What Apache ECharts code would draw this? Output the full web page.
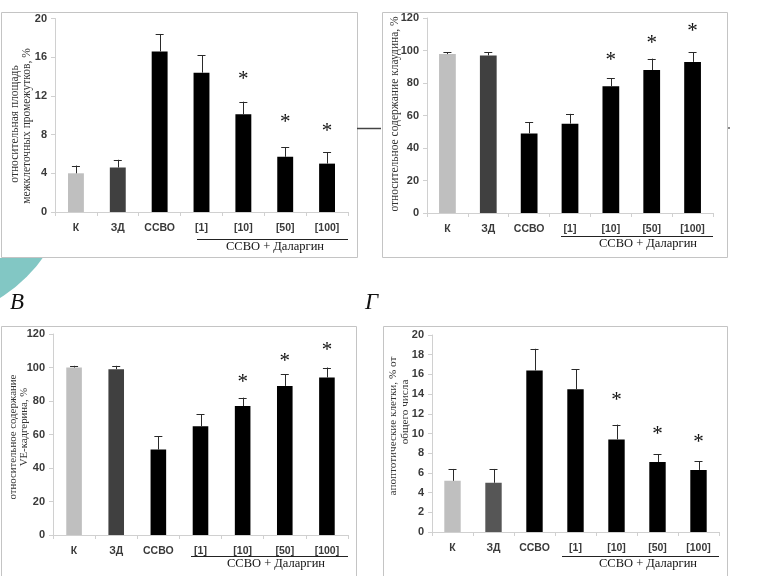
<!DOCTYPE html>
<html><head><meta charset="utf-8">
<script src="https://cdn.jsdelivr.net/npm/echarts@6/dist/echarts.min.js"></script>
<style>html,body{margin:0;padding:0;background:#fff}#c{width:768px;height:576px}</style>
</head><body><div id="c"></div>
<script>
// ---- data ----
const categories = ['К', 'ЗД', 'ССВО', '[1]', '[10]', '[50]', '[100]'];
const groupLabel = 'ССВО + Даларгин';

// panel А: relative area of intercellular gaps, %
const valuesA = [4.0, 4.6, 16.6, 14.4, 10.1, 5.7, 5.0];
const errTopA = [4.8, 5.4, 18.4, 16.2, 11.4, 6.7, 6.2];
const starsA = [null, null, null, null, 14.2, 9.8, 8.8];
const titleA = ['относительная площадь', 'межклеточных промежутков, %'];

// panel Б: relative claudin content, %
const valuesB = [97.8, 97, 49, 55, 78, 88, 93];
const errTopB = [99, 99, 56, 61, 83, 95, 99];
const starsB = [null, null, null, null, 97.2, 107.1, 114.5];
const titleB = ['относительное содержание клаудина, %'];

// panel В: relative VE-cadherin content, %
const valuesC = [100, 99, 51, 65, 77, 89, 94];
const errTopC = [101, 101, 59, 72, 82, 96, 100];
const starsC = [null, null, null, null, 94.3, 106.3, 113.4];
const titleC = ['относительное содержание', 'VE-кадгерина, %'];

// panel Г: apoptotic cells, % of total
const valuesD = [5.2, 5.0, 16.4, 14.5, 9.4, 7.1, 6.3];
const errTopD = [6.4, 6.4, 18.6, 16.5, 10.9, 7.9, 7.2];
const starsD = [null, null, null, null, 13.9, 10.36, 9.64];
const titleD = ['апоптотические клетки, % от', 'общего числа'];

// ---- chart ----
const chart = echarts.init(document.getElementById('c'), null, {renderer: 'canvas'});

const panels = [
  {vals: valuesA, err: errTopA, stars: starsA, max: 20, interval: 4, grid: {left: 55, top: 18.5, width: 293, height: 193.5}, zd: '#404040', bw: '38%'},
  {vals: valuesB, err: errTopB, stars: starsB, max: 120, interval: 20, grid: {left: 427, top: 18, width: 286, height: 195}, zd: '#404040', bw: '41%'},
  {vals: valuesC, err: errTopC, stars: starsC, max: 120, interval: 20, grid: {left: 53, top: 334, width: 295, height: 201}, zd: '#404040', bw: '37%'},
  {vals: valuesD, err: errTopD, stars: starsD, max: 20, interval: 2, grid: {left: 432, top: 335, width: 287, height: 197}, zd: '#565656', bw: '40%'}
];

const tickFont = {fontFamily: 'Liberation Sans', fontWeight: 'bold', fontSize: 11, color: '#3a3a3a'};

const grids = [], xAxes = [], yAxes = [], series = [];
panels.forEach((p, k) => {
  grids.push(Object.assign({containLabel: false}, p.grid));
  xAxes.push({
    type: 'category', gridIndex: k, data: categories,
    axisLine: {lineStyle: {color: '#d0d0d0'}},
    axisTick: {show: true, alignWithLabel: false, interval: 0, length: 4, lineStyle: {color: '#d0d0d0'}},
    axisLabel: Object.assign({margin: 11, interval: 0}, tickFont, {fontSize: 10.5})
  });
  yAxes.push({
    type: 'value', gridIndex: k, min: 0, max: p.max, interval: p.interval,
    axisLine: {show: true, lineStyle: {color: '#d0d0d0'}},
    axisTick: {show: true, length: 4, lineStyle: {color: '#d0d0d0'}},
    splitLine: {show: false},
    axisLabel: Object.assign({margin: 8}, tickFont)
  });
  series.push({
    type: 'bar', xAxisIndex: k, yAxisIndex: k, barWidth: p.bw, z: 2,
    data: p.vals.map((v, i) => ({value: v, itemStyle: {color: i === 0 ? '#bfbfbf' : (i === 1 ? p.zd : '#000000')}})),
    animation: false
  });
  series.push({
    type: 'custom', xAxisIndex: k, yAxisIndex: k, z: 3, animation: false,
    data: p.vals.map((v, i) => [i, v, p.err[i]]),
    encode: {x: 0, y: [1, 2]},
    renderItem: function (params, api) {
      const i = api.value(0);
      const a = api.coord([i, api.value(1)]);
      const b = api.coord([i, api.value(2)]);
      const st = {stroke: '#2a2a2a', lineWidth: 1};
      return {type: 'group', children: [
        {type: 'line', shape: {x1: Math.round(a[0]) + 0.5, y1: a[1], x2: Math.round(b[0]) + 0.5, y2: b[1]}, style: st},
        {type: 'line', shape: {x1: b[0] - 4, y1: Math.round(b[1]) + 0.5, x2: b[0] + 4, y2: Math.round(b[1]) + 0.5}, style: st}
      ]};
    }
  });
  series.push({
    type: 'custom', xAxisIndex: k, yAxisIndex: k, z: 3, animation: false,
    data: p.stars.map((s, i) => [i, s]).filter(d => d[1] !== null),
    encode: {x: 0, y: 1},
    renderItem: function (params, api) {
      const c = api.coord([api.value(0), api.value(1)]);
      return {type: 'text', x: c[0], y: c[1] + 5, style: {text: '*', fontFamily: 'Liberation Serif', fontSize: 21, fill: '#111', align: 'center', verticalAlign: 'middle'}};
    }
  });
});

// decorations and titles
const serif = 'Liberation Serif';
function vtext(lines, xs, cy, size) {
  return lines.map((t, j) => ({
    type: 'text', x: xs[j], y: cy[j], rotation: Math.PI / 2, z: 10,
    style: {text: t, fontFamily: serif, fontSize: size, fill: '#333', align: 'center', verticalAlign: 'middle'}
  }));
}
const graphic = [
  {type: 'circle', shape: {cx: -80, cy: 170, r: 151}, style: {fill: '#82c7c4'}, z: -20},
  {type: 'rect', shape: {x: 0, y: 0, width: 4, height: 258}, style: {fill: '#fff'}, z: -15},
  {type: 'rect', shape: {x: 1.5, y: 12.5, width: 356, height: 245}, style: {fill: '#fff', stroke: '#c4c4c4', lineWidth: 1}, z: -10},
  {type: 'rect', shape: {x: 382.5, y: 12.5, width: 345, height: 245}, style: {fill: '#fff', stroke: '#c4c4c4', lineWidth: 1}, z: -10},
  {type: 'rect', shape: {x: 1.5, y: 326.5, width: 355, height: 260}, style: {fill: '#fff', stroke: '#c4c4c4', lineWidth: 1}, z: -10},
  {type: 'rect', shape: {x: 383.5, y: 326.5, width: 344, height: 260}, style: {fill: '#fff', stroke: '#c4c4c4', lineWidth: 1}, z: -10},
  {type: 'line', shape: {x1: 357, y1: 128.5, x2: 381, y2: 128.5}, style: {stroke: '#444', lineWidth: 1.5}, z: -5},
  {type: 'rect', shape: {x: 728, y: 127, width: 2, height: 2}, style: {fill: '#888'}, z: -5},
  {type: 'text', x: 10, y: 303, style: {text: 'В', fontFamily: serif, fontStyle: 'italic', fontSize: 23, fill: '#111', verticalAlign: 'middle'}},
  {type: 'text', x: 365, y: 303, style: {text: 'Г', fontFamily: serif, fontStyle: 'italic', fontSize: 23, fill: '#111', verticalAlign: 'middle'}},
  // group brackets
  {type: 'line', shape: {x1: 197, y1: 239.5, x2: 348, y2: 239.5}, style: {stroke: '#222', lineWidth: 1}},
  {type: 'text', x: 275, y: 247, style: {text: groupLabel, fontFamily: serif, fontSize: 12.5, fill: '#111', align: 'center', verticalAlign: 'middle'}},
  {type: 'line', shape: {x1: 561, y1: 236.5, x2: 713, y2: 236.5}, style: {stroke: '#222', lineWidth: 1}},
  {type: 'text', x: 648, y: 244, style: {text: groupLabel, fontFamily: serif, fontSize: 12.5, fill: '#111', align: 'center', verticalAlign: 'middle'}},
  {type: 'line', shape: {x1: 191, y1: 556.5, x2: 348, y2: 556.5}, style: {stroke: '#222', lineWidth: 1}},
  {type: 'text', x: 276, y: 564, style: {text: groupLabel, fontFamily: serif, fontSize: 12.5, fill: '#111', align: 'center', verticalAlign: 'middle'}},
  {type: 'line', shape: {x1: 562, y1: 556.5, x2: 719, y2: 556.5}, style: {stroke: '#222', lineWidth: 1}},
  {type: 'text', x: 648, y: 564, style: {text: groupLabel, fontFamily: serif, fontSize: 12.5, fill: '#111', align: 'center', verticalAlign: 'middle'}}
].concat(
  vtext(titleA, [15, 27], [124, 126], 11.5),
  vtext(titleB, [395], [114], 11.5),
  vtext(titleC, [13, 24], [437, 427], 10.8),
  vtext(titleD, [393, 405], [426, 412], 11.2)
);

chart.setOption({
  animation: false,
  backgroundColor: '#fff',
  grid: grids, xAxis: xAxes, yAxis: yAxes, series: series,
  graphic: graphic
});
</script>
</body></html>
